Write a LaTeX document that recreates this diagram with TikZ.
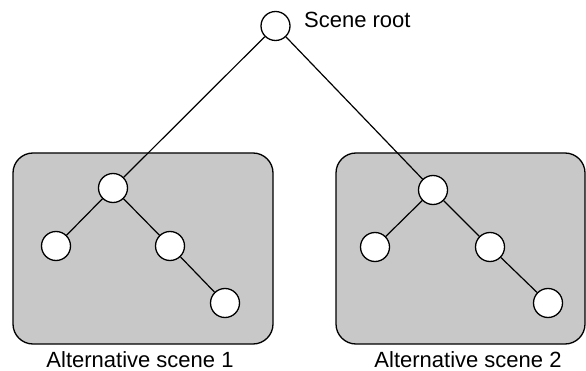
\documentclass[tikz,border=0pt]{standalone}
\usepackage{fontspec}
\setmainfont{Liberation Sans}
\definecolor{boxgray}{RGB}{200,200,200}
\begin{document}
\begin{tikzpicture}[x=1pt,y=-1pt,
  vert/.style={circle,draw=black,fill=white,line width=1.3pt,minimum size=29pt,inner sep=0pt},
  scenebox/.style={draw=black,fill=boxgray,line width=1.3pt,rounded corners=20pt},
  edge/.style={draw=black,line width=1.2pt},
  lbl/.style={font=\fontsize{22}{26}\selectfont,inner sep=0pt}]
\useasboundingbox (0,0) rectangle (586,371);
\draw[scenebox] (13,153) rectangle (273,344);
\draw[scenebox] (336,153) rectangle (585,344);
\node[vert] (root) at (275.5,26) {};
\node[lbl,anchor=base west] (rootlbl) at (304,28) {Scene root};
\node[vert] (a) at (113,188) {};
\node[vert] (a1) at (56,246) {};
\node[vert] (a2) at (170,246) {};
\node[vert] (a3) at (225,303) {};
\node[vert] (b) at (433,190) {};
\node[vert] (b1) at (375,247) {};
\node[vert] (b2) at (490,247) {};
\node[vert] (b3) at (548,303) {};
\path[edge] (root) -- (a);
\path[edge] (root) -- (b);
\path[edge] (a) -- (a1);
\path[edge] (a) -- (a2);
\path[edge] (a2) -- (a3);
\path[edge] (b) -- (b1);
\path[edge] (b) -- (b2);
\path[edge] (b2) -- (b3);
\node[lbl,anchor=base] (l1) at (140,367) {Alternative scene 1};
\node[lbl,anchor=base] (l2) at (468,367) {Alternative scene 2};
\end{tikzpicture}
\end{document}
